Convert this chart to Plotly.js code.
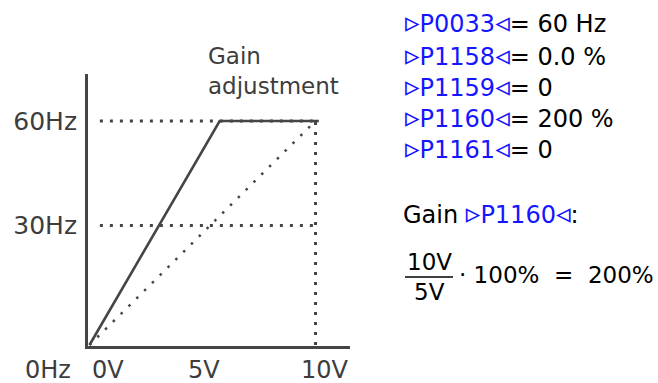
<!DOCTYPE html>
<html>
<head>
<meta charset="utf-8">
<script src="https://cdn.plot.ly/plotly-3.0.1.min.js"></script>
<style>html,body{margin:0;padding:0;background:#fff;}#chart{width:658px;height:383px;}</style>
</head>
<body>
<div id="chart"></div>
<script>
// ---- data ----
const voltTicks = [0, 5, 10];
const voltLabels = ['0V', '5V', '10V'];
const freqTicks = [0, 32, 60];            // as drawn (30 Hz level sits a bit high in the sketch)
const freqLabels = ['0Hz', '30Hz', '60Hz'];

const gainX = [0, 5.76, 10.15];           // gain-adjusted characteristic (solid)
const gainY = [0, 60, 60];
const baseX = [0, 10];                    // original characteristic (dotted)
const baseY = [0, 60];

const ref60X = [0.46, 10];  const ref60Y = [60, 60];
const ref30X = [0.46, 10];  const ref30Y = [32, 32];
const ref10X = [10, 10];    const ref10Y = [0, 60];

const params = ['P0033', 'P1158', 'P1159', 'P1160', 'P1161'];
const paramValues = ['60 Hz', '0.0 %', '0', '200 %', '0'];

// ---- layout helpers ----
const W = 658, H = 383;
const M = {l: 88, r: 308, t: 74, b: 37};
const pw = W - M.l - M.r, ph = H - M.t - M.b;
const px = p => (p - M.l) / pw;
const py = p => 1 - (p - M.t) / ph;

const FONT = 'DejaVu Sans';
const GRAY = '#3d3d3d';
const BLUE = '#1515ff';
const LINE = '#454545';
const TRI_R = '<span style="font-size:29px">\u25B9</span>';
const TRI_L = '<span style="font-size:29px">\u25C3</span>';
const tag = p => '<span style="color:' + BLUE + '">' + TRI_R + p + TRI_L + '</span>';

const traces = [
  {x: ref60X, y: ref60Y, mode: 'lines', line: {color: LINE, width: 3, dash: '3px,7px'}, hoverinfo: 'skip'},
  {x: ref30X, y: ref30Y, mode: 'lines', line: {color: LINE, width: 3, dash: '3px,7px'}, hoverinfo: 'skip'},
  {x: ref10X, y: ref10Y, mode: 'lines', line: {color: LINE, width: 3, dash: '3px,7px'}, hoverinfo: 'skip'},
  {x: baseX, y: baseY, mode: 'lines', line: {color: LINE, width: 2.5, dash: '2.5px,8.5px'}, hoverinfo: 'skip'},
  {x: gainX, y: gainY, mode: 'lines', line: {color: LINE, width: 2.6}, hoverinfo: 'skip'}
];

const ann = [];
// x-axis labels
const xShift = [19, 2, 10];
voltTicks.forEach((v, i) => ann.push({
  x: v, xref: 'x', y: 0, yref: 'paper', yshift: -24, xshift: xShift[i],
  text: voltLabels[i], showarrow: false, xanchor: 'center', yanchor: 'middle',
  font: {family: FONT, size: 24, color: GRAY}
}));
// 0 Hz label (sits on the x-label row)
ann.push({x: px(73), xref: 'paper', y: 0, yref: 'paper', yshift: -24,
  text: freqLabels[0], showarrow: false, xanchor: 'right', yanchor: 'middle',
  font: {family: FONT, size: 24, color: GRAY}});
// Gain adjustment caption
ann.push({x: px(206), xref: 'paper', y: py(71), yref: 'paper',
  text: 'Gain<br>adjustment', showarrow: false, xanchor: 'left', yanchor: 'middle', align: 'left',
  font: {family: FONT, size: 23, color: GRAY}});
// parameter list
const rowY = [22, 55, 86, 117, 148];
params.forEach((p, i) => ann.push({
  x: px(403), xref: 'paper', y: py(rowY[i]), yref: 'paper',
  text: tag(p) + '= ' + paramValues[i],
  showarrow: false, xanchor: 'left', yanchor: 'middle',
  font: {family: FONT, size: 24, color: '#000'}
}));
// Gain formula
ann.push({x: px(401), xref: 'paper', y: py(213), yref: 'paper',
  text: 'Gain ' + tag('P1160') + ':',
  showarrow: false, xanchor: 'left', yanchor: 'middle', font: {family: FONT, size: 24, color: '#000'}});
ann.push({x: px(429), xref: 'paper', y: py(262), yref: 'paper', text: '10V',
  showarrow: false, xanchor: 'center', yanchor: 'middle', font: {family: FONT, size: 23, color: '#000'}});
ann.push({x: px(429), xref: 'paper', y: py(292), yref: 'paper', text: '5V',
  showarrow: false, xanchor: 'center', yanchor: 'middle', font: {family: FONT, size: 23, color: '#000'}});
ann.push({x: px(457), xref: 'paper', y: py(275), yref: 'paper', text: '\u00B7 100%\u00A0\u00A0=\u00A0\u00A0200%',
  showarrow: false, xanchor: 'left', yanchor: 'middle', font: {family: FONT, size: 23, color: '#000'}});

const shapes = [{type: 'line', xref: 'paper', yref: 'paper', x0: px(405), x1: px(453), y0: py(277), y1: py(277),
  line: {color: '#000', width: 1.5}}];

const layout = {
  width: W, height: H, margin: M, showlegend: false,
  paper_bgcolor: '#fff', plot_bgcolor: '#fff',
  xaxis: {range: [-0.066, 11.527], showgrid: false, zeroline: false, showline: true,
    linecolor: LINE, linewidth: 3, showticklabels: false, ticks: ''},
  yaxis: {range: [-0.268, 72.59], showgrid: false, zeroline: false, showline: true,
    linecolor: LINE, linewidth: 3, ticks: '', tickmode: 'array',
    tickvals: freqTicks.slice(1), ticktext: freqLabels.slice(1), ticklabelstandoff: 3,
    tickfont: {family: FONT, size: 25, color: GRAY}},
  annotations: ann, shapes: shapes
};

Plotly.newPlot('chart', traces, layout, {staticPlot: true, displayModeBar: false});
</script>
</body>
</html>
